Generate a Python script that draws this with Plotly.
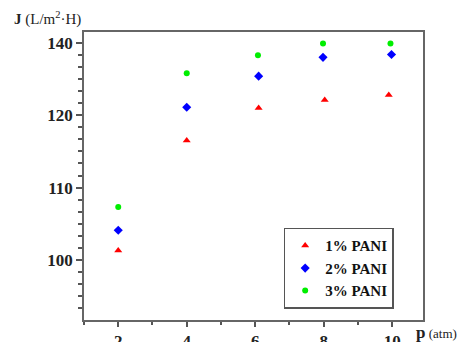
import plotly.graph_objects as go

pressure_1 = [2, 4, 6.1, 8.03, 9.9]
flux_1 = [101.3, 116.5, 121.0, 122.1, 122.8]
pressure_2 = [2, 4, 6.1, 7.98, 9.98]
flux_2 = [104.1, 121.1, 125.4, 128.0, 128.4]
pressure_3 = [2, 4, 6.08, 7.98, 9.95]
flux_3 = [107.3, 125.8, 128.3, 129.9, 129.9]

y_tickvals = [100, 110, 120, 130]
y_ticktext = ["100", "110", "120", "140"]
x_tickvals = [2, 4, 6, 8, 10]

font_fam = "Liberation Serif, Times New Roman, serif"

fig = go.Figure()
fig.add_trace(go.Scatter(x=pressure_1, y=flux_1, mode="markers", name="1% PANI",
                         marker=dict(symbol="triangle-up", color="#ff0000", size=7)))
fig.add_trace(go.Scatter(x=pressure_2, y=flux_2, mode="markers", name="2% PANI",
                         marker=dict(symbol="diamond", color="#0000ff", size=7)))
fig.add_trace(go.Scatter(x=pressure_3, y=flux_3, mode="markers", name="3% PANI",
                         marker=dict(symbol="circle", color="#00ee00", size=6)))

fig.update_layout(
    width=467, height=342,
    margin=dict(l=76, r=52, t=24, b=30, autoexpand=False),
    paper_bgcolor="white", plot_bgcolor="white",
    font=dict(family=font_fam, color="#222", size=15),
    legend=dict(x=0.589, y=0.32, xanchor="left", yanchor="top",
                bordercolor="#555", borderwidth=1.5, bgcolor="white",
                font=dict(size=15, family=font_fam, color="#111", weight="bold"),
                itemwidth=30, tracegroupgap=0),
    xaxis=dict(range=[1.0, 10.9], tickvals=x_tickvals, ticks="outside", ticklen=5,
               tickwidth=1.5, tickcolor="#555", showline=True, linecolor="#666",
               linewidth=1.5, mirror=True, showgrid=False, zeroline=False, automargin=False,
               tickfont=dict(size=17, family=font_fam, color="#222", weight="bold"),
               minor=dict(dtick=1, tick0=1, ticks="outside", ticklen=3, tickcolor="#555")),
    yaxis=dict(range=[91.7, 131.5], tickvals=y_tickvals, ticktext=y_ticktext,
               ticks="outside", ticklen=6, tickwidth=1.5, tickcolor="#555",
               showline=True, linecolor="#666", linewidth=1.5, mirror=True,
               showgrid=False, zeroline=False, automargin=False,
               tickfont=dict(size=17, family=font_fam, color="#222", weight="bold"),
               minor=dict(dtick=10/6, tick0=100, ticks="outside", ticklen=4, tickcolor="#555")),
    showlegend=True,
)

fig.add_annotation(text="<b>J</b> (L/m<sup>2</sup>·H)", xref="paper", yref="paper",
                   x=-0.003, y=1.0, xanchor="right", yanchor="bottom", yshift=2,
                   showarrow=False, font=dict(size=15, family=font_fam, color="#222"))
fig.add_annotation(text="<b><span style='font-size:17px'>p</span></b> (atm)", xref="paper", yref="paper",
                   x=1.0, y=0.0, xanchor="left", yanchor="top", xshift=-9, yshift=-1,
                   showarrow=False, font=dict(size=13, family=font_fam, color="#222"))

fig.write_html("out.html")
